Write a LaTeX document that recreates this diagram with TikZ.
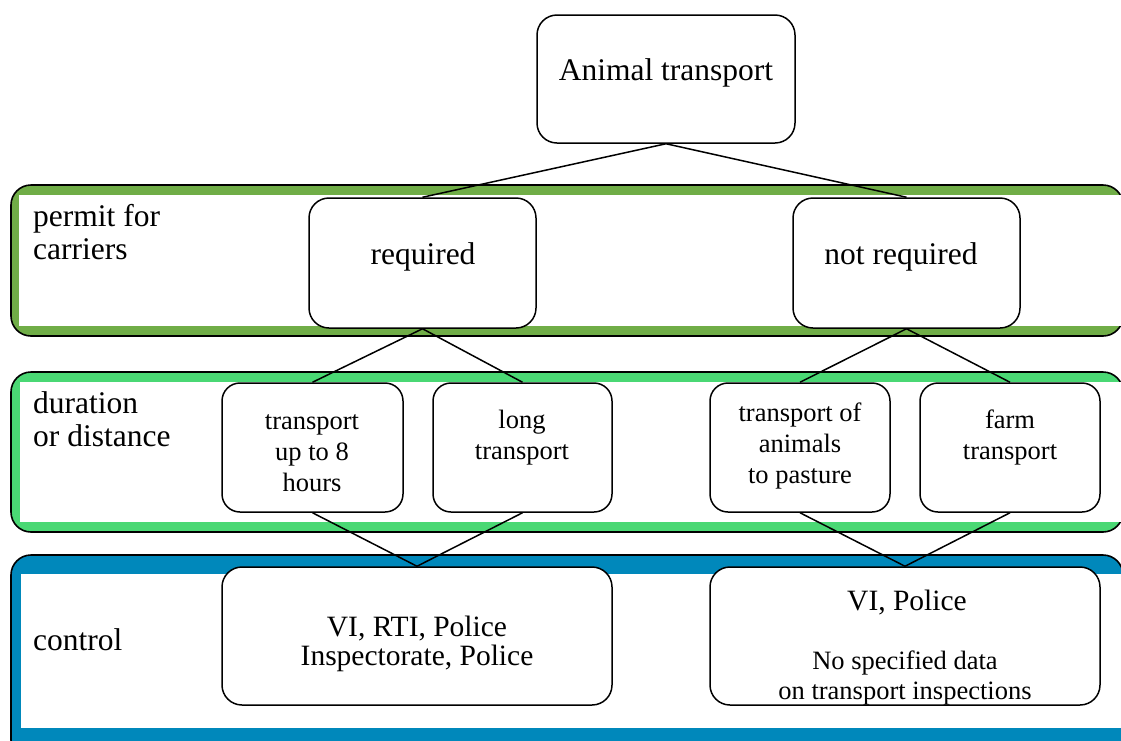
\documentclass[tikz,border=0pt]{standalone}
\usepackage{fontspec}
\setmainfont{Liberation Serif}
\definecolor{bandA}{HTML}{70AD47}
\definecolor{bandB}{HTML}{4AD874}
\definecolor{bandC}{HTML}{0088BB}
\begin{document}
\begin{tikzpicture}[x=1pt,y=-1pt,
  band/.style={draw=black,line width=1.6pt,rounded corners=20pt},
  box/.style={draw=black,fill=white,line width=1.5pt,rounded corners=20pt,inner sep=0pt},
  link/.style={draw=black,line width=1.5pt},
  big/.style={font=\fontsize{31.5}{32.5}\selectfont,align=left,inner sep=0pt},
  bigc/.style={font=\fontsize{31.5}{32.5}\selectfont,align=center,inner sep=0pt},
  small/.style={font=\fontsize{26.5}{31}\selectfont,align=center,inner sep=0pt},
  mid/.style={font=\fontsize{29.5}{29}\selectfont,align=center,inner sep=0pt}]
\useasboundingbox (0,0) rectangle (1121,740);
% bands
\fill[bandA,band] (11,185) rectangle (1123,336);
\fill[white] (19,195) rectangle (1132,326);
\fill[bandB,band] (11,372) rectangle (1123,532);
\fill[white] (20,382) rectangle (1132,522);
\fill[bandC,band] (11,555) rectangle (1123,760);
\fill[white] (21,574) rectangle (1132,728);
% band labels
\node[big,anchor=west] (lab1) at (33,232) {permit for\\carriers};
\node[big,anchor=west] (lab2) at (33,419) {duration\\or distance};
\node[big,anchor=west] (lab3) at (33,640) {control};
% boxes
\node[box,minimum width=258pt,minimum height=128pt] (at) at (666,79) {};
\node[box,minimum width=227pt,minimum height=130pt] (req) at (422.5,263) {};
\node[box,minimum width=227pt,minimum height=130pt] (nreq) at (906.5,263) {};
\node[box,minimum width=181pt,minimum height=129pt,rounded corners=18pt] (t8) at (312.5,447.5) {};
\node[box,minimum width=179pt,minimum height=129pt,rounded corners=18pt] (long) at (522.5,447.5) {};
\node[box,minimum width=180pt,minimum height=129pt,rounded corners=18pt] (past) at (800,447.5) {};
\node[box,minimum width=180pt,minimum height=129pt,rounded corners=18pt] (farm) at (1010,447.5) {};
\node[box,minimum width=390pt,minimum height=138pt] (c1) at (417,636) {};
\node[box,minimum width=390pt,minimum height=138pt] (c2) at (905,636) {};
% connectors
\draw[link] (at.south) -- (req.north);
\draw[link] (at.south) -- (nreq.north);
\draw[link] (req.south) -- (t8.north);
\draw[link] (req.south) -- (long.north);
\draw[link] (nreq.south) -- (past.north);
\draw[link] (nreq.south) -- (farm.north);
\draw[link] (t8.south) -- (c1.north);
\draw[link] (long.south) -- (c1.north);
\draw[link] (past.south) -- (c2.north);
\draw[link] (farm.south) -- (c2.north);
% texts
\node[bigc] (tat) at (666,73) {Animal transport};
\node[bigc] (treq) at (423,257) {required};
\node[bigc] (tnreq) at (901,257) {not required};
\node[small] (tt8) at (312,453) {transport\\up to 8\\hours};
\node[small] (tlong) at (522,437.5) {long\\transport};
\node[small] (tpast) at (800,446) {transport of\\animals\\to pasture};
\node[small] (tfarm) at (1010,437.5) {farm\\transport};
\node[mid] (tc1) at (417,644) {VI, RTI, Police\\Inspectorate, Police};
\node[mid] (tc2a) at (907,603) {VI, Police};
\node[small,font=\fontsize{26.5}{30}\selectfont] (tc2b) at (905,678) {No specified data\\on transport inspections};
\end{tikzpicture}
\end{document}
